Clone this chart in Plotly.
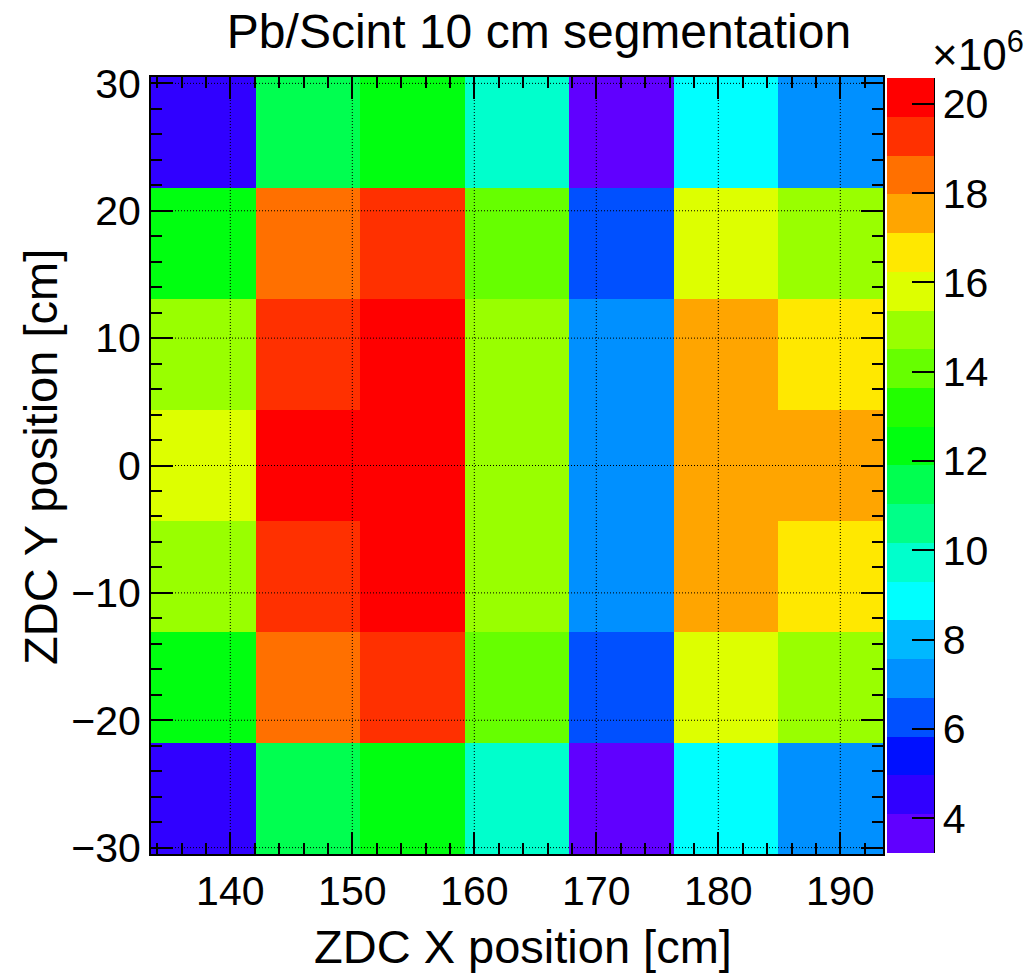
import plotly.graph_objects as go

# ---- data ----
x_edges = [133.5, 142.07, 150.64, 159.21, 167.79, 176.36, 184.93, 193.5]
y_edges = [-30.5, -21.79, -13.07, -4.36, 4.36, 13.07, 21.79, 30.5]

# cell contents in units of 1e6, rows from bottom (y=-30) to top (y=+30)
row1 = [4.52, 11.47, 12.34, 9.73, 3.65, 8.87, 7.13]
row2 = [12.34, 18.41, 19.28, 14.07, 6.26, 15.81, 14.94]
row3 = [14.94, 19.28, 20.15, 14.94, 7.13, 17.55, 16.68]
row4 = [15.81, 20.15, 20.15, 14.94, 7.13, 17.55, 17.55]
row5 = [14.94, 19.28, 20.15, 14.94, 7.13, 17.55, 16.68]
row6 = [12.34, 18.41, 19.28, 14.07, 6.26, 15.81, 14.94]
row7 = [4.52, 11.47, 12.34, 9.73, 3.65, 8.87, 7.13]
scale = 1e6

z_min = 3.22
z_max = 20.58
cbar_ticks = [4, 6, 8, 10, 12, 14, 16, 18, 20]
x_ticks = [140, 150, 160, 170, 180, 190]
y_ticks = [-30, -20, -10, 0, 10, 20, 30]

palette = ["#6000ff", "#3000ff", "#0010ff", "#0050ff", "#0090ff", "#00b8ff",
           "#00ffff", "#00ffcc", "#00ff88", "#00ff50", "#00ff10", "#22ff00",
           "#66ff00", "#99ff00", "#ddff00", "#ffe800", "#ffa500", "#ff7000",
           "#ff3000", "#ff0000"]

# ---- figure ----
W, H = 1029, 977
L, R, T, B = 151, 146, 77, 123
PW, PH = W - L - R, H - T - B


def px(xp):
    return (xp - L) / PW


def py(yp):
    return (H - B - yp) / PH


n = len(palette)
colorscale = []
for i, c in enumerate(palette):
    colorscale.append([i / n, c])
    colorscale.append([(i + 1) / n, c])

z = [[v * scale for v in r] for r in [row1, row2, row3, row4, row5, row6, row7]]

FONT = "Liberation Sans, Arial, Helvetica, sans-serif"
TICKF = dict(family=FONT, size=41, color="black")

fig = go.Figure()
fig.add_trace(go.Heatmap(
    x=x_edges, y=y_edges, z=z,
    zmin=z_min * scale, zmax=z_max * scale,
    colorscale=colorscale,
    colorbar=dict(
        x=px(887), xanchor="left", xpad=0,
        y=0.5, yanchor="middle", len=(853 - 78) / PH, lenmode="fraction", ypad=0,
        thickness=47, thicknessmode="pixels",
        outlinewidth=0,
        tickmode="array",
        tickvals=[t * scale for t in cbar_ticks],
        ticktext=[str(t) for t in cbar_ticks],
        ticks="inside", ticklen=22, tickwidth=2, tickcolor="black",
        tickfont=TICKF,
    ),
    hoverinfo="skip",
))

axis_common = dict(
    showline=True, linecolor="black", linewidth=2, mirror="allticks",
    ticks="inside", ticklen=22, tickwidth=2, tickcolor="black",
    showgrid=False, zeroline=False,
    tickfont=TICKF,
)

fig.update_xaxes(
    range=[x_edges[0], x_edges[-1]],
    tickmode="array", tickvals=x_ticks,
    minor=dict(dtick=2, tick0=0, ticks="inside", ticklen=11, tickwidth=2,
               tickcolor="black", showgrid=False),
    **axis_common,
)
fig.update_yaxes(
    range=[y_edges[0], y_edges[-1]],
    tickmode="array", tickvals=y_ticks,
    minor=dict(dtick=2, tick0=0, ticks="inside", ticklen=11, tickwidth=2,
               tickcolor="black", showgrid=False),
    **axis_common,
)

# dotted grid lines drawn above the cells (ROOT style)
shapes = []
for xv in x_ticks:
    shapes.append(dict(type="line", xref="x", yref="paper", x0=xv, x1=xv, y0=0, y1=1,
                       line=dict(color="black", width=1, dash="1px,2px"), layer="above"))
for yv in y_ticks:
    shapes.append(dict(type="line", xref="paper", yref="y", x0=0, x1=1, y0=yv, y1=yv,
                       line=dict(color="black", width=1, dash="1px,2px"), layer="above"))
# colour bar axis line
shapes.append(dict(type="line", xref="paper", yref="paper", x0=px(934), x1=px(934),
                   y0=py(853), y1=py(78), line=dict(color="black", width=2), layer="above"))

annotations = [
    dict(text="ZDC X position [cm]", xref="paper", yref="paper", x=px(523), y=py(946),
         xanchor="center", yanchor="middle", showarrow=False,
         font=dict(family=FONT, size=47, color="black")),
    dict(text="ZDC Y position [cm]", xref="paper", yref="paper", x=px(40), y=py(457),
         xanchor="center", yanchor="middle", showarrow=False, textangle=-90,
         font=dict(family=FONT, size=47, color="black")),
    dict(text="×10<sup>6</sup>", xref="paper", yref="paper", x=px(930), y=py(52),
         xanchor="left", yanchor="middle", showarrow=False,
         font=dict(family=FONT, size=44, color="black")),
]

fig.update_layout(
    width=W, height=H, autosize=False,
    margin=dict(l=L, r=R, t=T, b=B, pad=0),
    paper_bgcolor="white", plot_bgcolor="white",
    title=dict(text="Pb/Scint 10 cm segmentation", x=539 / W, xanchor="center",
               y=1 - 31 / H, yanchor="middle", xref="container", yref="container",
               font=dict(family=FONT, size=48, color="black")),
    shapes=shapes, annotations=annotations,
    showlegend=False,
)

fig.write_html("out.html")
